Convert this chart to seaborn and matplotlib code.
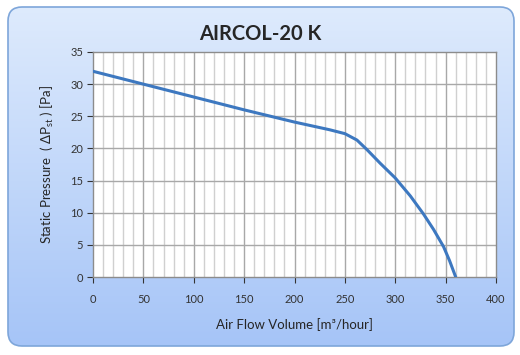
import numpy as np
import pandas as pd
import seaborn as sns
import matplotlib.pyplot as plt
from matplotlib.patches import FancyBboxPatch

# data
airflow = [0, 50, 100, 150, 200, 235, 250, 262, 272, 285, 300, 315, 328, 338, 348, 354, 360]
pressure = [32, 30, 28, 26, 24.1, 22.9, 22.3, 21.3, 19.8, 17.7, 15.4, 12.6, 9.8, 7.4, 4.7, 2.5, 0]
x_ticks = [0, 50, 100, 150, 200, 250, 300, 350, 400]
y_ticks = [0, 5, 10, 15, 20, 25, 30, 35]

df = pd.DataFrame({'flow': airflow, 'pressure': pressure})

sns.set_style('white')
plt.rcParams['font.family'] = ['Lato', 'DejaVu Sans']

fig = plt.figure(figsize=(5.2, 3.55), dpi=100)

# background panel with gradient
bg = fig.add_axes([0, 0, 1, 1])
bg.set_xlim(0, 520)
bg.set_ylim(355, 0)
bg.axis('off')
grad = np.linspace(0, 1, 256).reshape(-1, 1)
top = np.array([0.87, 0.92, 0.99])
bot = np.array([0.65, 0.77, 0.97])
img = top + (bot - top) * grad[:, :, None] * np.ones((1, 2, 1))
panel = FancyBboxPatch((8, 7), 506, 339, boxstyle='round,pad=0,rounding_size=14',
                       facecolor='none', edgecolor='#7ea6da', linewidth=1.2)
im = bg.imshow(img, extent=[8, 514, 346, 7], aspect='auto', zorder=0)
bg.add_patch(panel)
im.set_clip_path(panel)

ax = fig.add_axes([93 / 520, 78 / 355, 403 / 520, 225 / 355])
ax.set_facecolor('white')
ax.set_xlim(0, 400)
ax.set_ylim(0, 35)

for v in range(10, 400, 10):
    ax.axvline(v, color='#a8a8a8' if v % 50 == 0 else '#d0d0d0', lw=1, zorder=1)
for h in y_ticks[1:-1]:
    ax.axhline(h, color='#a8a8a8', lw=1, zorder=1)

sns.lineplot(data=df, x='flow', y='pressure', ax=ax, color='#3d78c0', lw=2.2, zorder=3)

ax.set_xticks(x_ticks)
ax.set_yticks(y_ticks)
ax.tick_params(axis='both', labelsize=8, colors='#333333', length=4, direction='out',
               left=True, bottom=True, pad=3)
ax.tick_params(axis='x', pad=8)
for s in ax.spines.values():
    s.set_color('#8c8c8c')
    s.set_linewidth(1)

ax.set_xlabel('Air Flow Volume [m³/hour]', fontsize=9.5, labelpad=10)
ax.set_ylabel('Static Pressure  ( ΔP$_{\\mathregular{st}}$ ) [Pa]', fontsize=9.5, labelpad=10)
fig.text(0.5, 0.905, 'AIRCOL-20 K', ha='center', va='center', fontsize=14.5, fontweight='bold')

fig.savefig('out.png', dpi=100)
